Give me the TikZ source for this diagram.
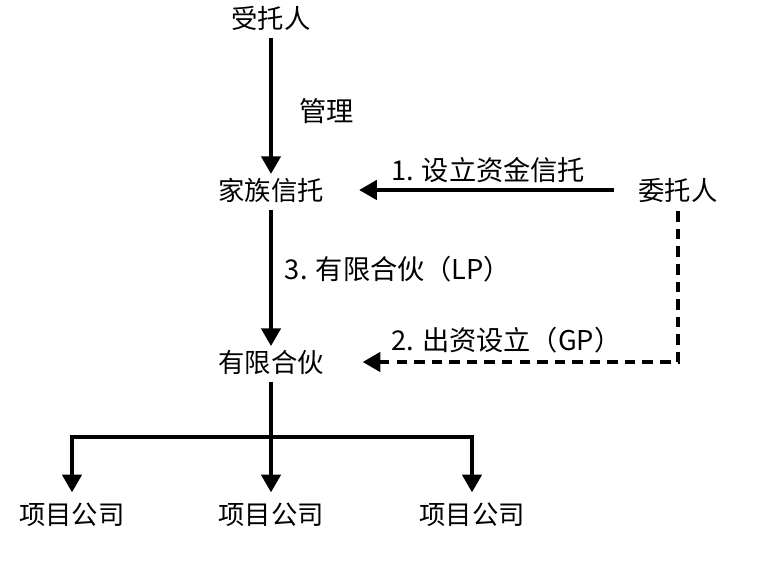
\documentclass[tikz,border=0pt]{standalone}
\usepackage{fontspec}
\newfontfamily\cjk{Noto Sans CJK SC}
\usetikzlibrary{arrows.meta,positioning}

\begin{document}
\begin{tikzpicture}[x=0.02cm, y=-0.02cm,
    entity/.style={inner sep=2pt, font=\cjk\fontsize{15}{18}\selectfont},
    lbl/.style={inner sep=1pt, font=\cjk\fontsize{15.5}{18}\selectfont},
    flow/.style={-{Triangle[length=10pt, width=11pt]}, line width=1.9pt},
    fund/.style={flow, dash pattern=on 6pt off 4pt},
]
\useasboundingbox (0,0) rectangle (764,564);

% Parties
\node[entity] (trustee) at (271,18) {受托人};
\node[entity] (trust) at (271,190) {家族信托};
\node[entity] (settlor) at (678,190) {委托人};
\node[entity] (lp) at (271,362) {有限合伙};

% Project companies
\node[entity] (co1) at (72,515) {项目公司};
\node[entity] (co2) at (271,515) {项目公司};
\node[entity] (co3) at (472,515) {项目公司};

% Management and trust set-up
\draw[flow, shorten <=2pt] (trustee) -- node[lbl, right=14pt, pos=0.55] {管理} (trust);
\draw[flow, shorten <=12pt, shorten >=18pt] (settlor) --
    node[lbl, above=2pt, xshift=4pt] {1. 设立资金信托} (trust);

% GP contribution (dashed) and LP share
\draw[fund, shorten <=3pt, shorten >=20pt] (settlor.south) |-
    node[lbl, above=3pt, pos=0.76, xshift=6pt] {2. 出资设立（GP）} (lp.east);
\draw[flow, shorten <=2pt] (trust) -- node[lbl, right=6pt, pos=0.45] {3. 有限合伙（LP）} (lp);

% Investment into the project companies
\coordinate (split) at (271,437);
\draw[line width=1.9pt, shorten <=2pt] (lp) -- (split);
\draw[flow, shorten >=4pt] (split) -| (co1);
\draw[flow, shorten >=4pt] (split) -- (co2);
\draw[flow, shorten >=4pt] (split) -| (co3);
\end{tikzpicture}
\end{document}
